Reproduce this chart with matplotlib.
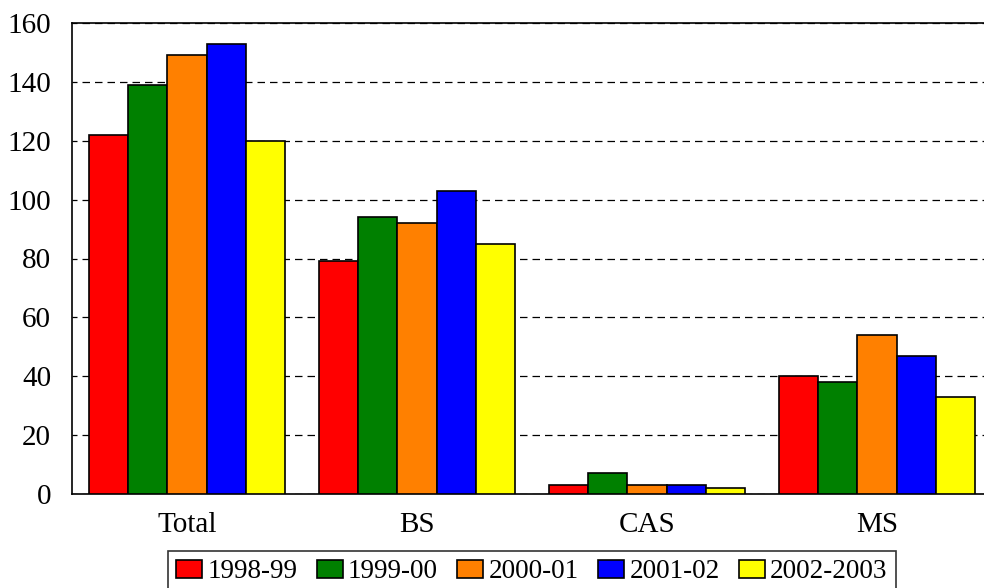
import matplotlib.pyplot as plt
import numpy as np

plt.rcParams['font.family'] = ['Liberation Serif', 'DejaVu Serif']

categories = ["Total", "BS", "CAS", "MS"]
years = ["1998-99", "1999-00", "2000-01", "2001-02", "2002-2003"]
v_1998 = [122, 79, 3, 40]
v_1999 = [139, 94, 7, 38]
v_2000 = [149, 92, 3, 54]
v_2001 = [153, 103, 3, 47]
v_2002 = [120, 85, 2, 33]
colors = ["#ff0000", "#008000", "#ff8000", "#0000ff", "#ffff00"]

series = [v_1998, v_1999, v_2000, v_2001, v_2002]

fig = plt.figure(figsize=(9.84, 5.88), dpi=100)
ax = fig.add_axes([72 / 984, 94 / 588, 920 / 984, 471 / 588])

x = np.arange(len(categories))
w = 0.17
for i, (vals, lab, c) in enumerate(zip(series, years, colors)):
    ax.bar(x + (i - 2) * w, vals, w, color=c, edgecolor="black", linewidth=1.2,
           label=lab, zorder=3)

ax.set_xlim(-0.5, 3.5)
ax.set_ylim(0, 160)
ax.set_yticks(range(0, 161, 20))
ax.yaxis.grid(True, linestyle=(2, (6, 4)), color="black", linewidth=0.9)
ax.set_axisbelow(True)
ax.set_xticks(x)
ax.set_xticklabels(categories)
ax.tick_params(axis="x", length=0, labelsize=21, pad=13)
ax.tick_params(axis="y", length=0, labelsize=21, pad=15)
for s in ax.spines.values():
    s.set_linewidth(1.2)
ax.spines["right"].set_visible(False)

# legend sits low, its bottom edge runs off the figure like the original
leg = fig.legend(*ax.get_legend_handles_labels(), loc="upper left",
                 bbox_to_anchor=(168 / 984, 1 - 551 / 588), bbox_transform=fig.transFigure,
                 ncol=5, fontsize=19.5, frameon=True, fancybox=False, edgecolor="black",
                 handlelength=0.95, handleheight=0.65, handletextpad=0.2, columnspacing=0.72,
                 borderpad=0.3, borderaxespad=0)
leg.get_frame().set_linewidth(1.2)

fig.savefig("out.png", dpi=100)
